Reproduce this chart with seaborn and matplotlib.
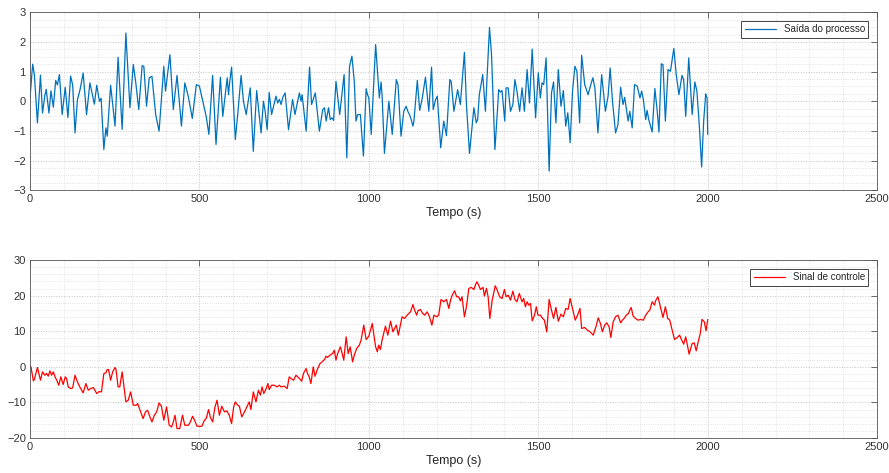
import pandas as pd
import matplotlib
matplotlib.use("Agg")
import matplotlib.pyplot as plt
import seaborn as sns
from matplotlib.ticker import MultipleLocator

# Saida do processo
t_saida = [0, 8, 13, 22, 31, 37, 44, 48, 56, 62, 69, 76, 81, 87, 95, 104, 112, 120, 126, 133,
           140, 148, 157, 167, 177, 190, 197, 205, 210, 218, 224, 228, 238, 251, 260, 272, 283, 295, 305, 312,
           321, 331, 336, 344, 352, 360, 371, 381, 395, 400, 413, 423, 434, 447, 457, 467, 479, 491,
           500, 510, 517, 520, 528, 539, 549, 562, 569, 577, 582, 586, 589, 595, 606, 613, 623, 630, 638, 650,
           659, 669, 682, 689, 694, 700, 706, 713, 726, 731, 736, 741, 746, 753, 763, 775, 782, 788, 795, 800,
           803, 815, 825, 831, 842, 854, 864, 869, 874, 881, 886, 891, 896, 903, 914, 927, 935, 943, 950, 957,
           962, 967, 975, 984, 992, 996,
           1000, 1007, 1020, 1031, 1036, 1039, 1046, 1059, 1069, 1081, 1086, 1095, 1103, 1110, 1115, 1120, 1125, 1130, 1133, 1143,
           1150, 1157, 1167, 1177, 1185, 1190, 1197, 1202, 1212, 1221, 1229, 1239, 1243, 1251, 1262, 1270, 1282, 1288, 1297, 1310,
           1317, 1321, 1326, 1336, 1344, 1356, 1362, 1372, 1380, 1383, 1388, 1393, 1401, 1405, 1411, 1418, 1425, 1431, 1437, 1445,
           1452, 1459, 1467, 1474, 1482, 1492,
           1500, 1506, 1511, 1516, 1523, 1532, 1539, 1545, 1552, 1559, 1567, 1574, 1581, 1587, 1594, 1601, 1608, 1614, 1622, 1628,
           1637, 1647, 1655, 1661, 1667, 1676, 1687, 1698, 1706, 1712, 1719, 1728, 1735, 1743, 1750, 1755, 1765, 1770, 1777, 1784,
           1792, 1800, 1805, 1810, 1817, 1821, 1826, 1836, 1844, 1851, 1856, 1863, 1868, 1875, 1883, 1890, 1900, 1907, 1915, 1924,
           1929, 1935, 1944, 1954, 1962, 1968, 1975, 1982, 1988, 1994, 1998, 2000]
y_saida = [0.1, 1.25, 0.9, -0.73, 0.88, -0.4, 0.2, 0.4, -0.4, 0.35, -0.2, 0.7, 0.55, 0.9, -0.45, 0.47, -0.55, 0.85, 0.55, -1.07,
           0.05, 0.4, 0.95, -0.45, 0.62, -0.1, 0.54, 0, 0.1, -1.63, -0.9, -1.18, 0.54, -0.84, 1.48, -0.95, 2.3, -0.22, 1.24, 0.65,
           -0.28, 1.2, 1.18, -0.17, 0.79, 0.84, -0.45, -1.01, 1.18, 0.34, 1.57, -0.28, 0.87, -0.84, 0.62, 0.17, -0.58, 0.56,
           0.51, 0, -0.34, -0.51, -1.12, 0.87, -1.46, 0.81, -0.51, 0.28, 0.79, 0.22, 0.62, 1.15, -1.29, -0.45, 0.87, 0, -0.45, 0.45,
           -1.69, 0.36, -1.07, 0, -0.34, -0.96, 0.3, -0.45, 0.17, -0.06, 0.06, -0.11, 0.13, 0.28, -0.96, 0.06, -0.45, -0.11, 0.28, 0,
           0.22, -1.01, 1.15, -0.11, 0.28, -1.01, -0.28, -0.22, -0.67, -0.22, -0.62, -0.56, -0.65, 0.67, -0.45, 0.9, -1.91, 1.18, 1.52, 0.67,
           -0.67, -0.45, -0.45, -1.85, 0.42, 0.22,
           0.11, -1.12, 1.91, 0.11, 0.65, 0.22, -1.76, 0, -1.12, 0.73, 0.56, -1.18, -0.34, -0.17, -0.34, -0.45, -0.62, -0.84, -0.67, 0.7,
           -0.31, 0.06, 0.81, -0.34, 1.15, -0.28, 0.06, 0.17, -1.57, -0.67, -1.16, 0.73, 0.67, -0.34, 0.39, -0.11, 1.65, -0.11, -1.76, -0.22,
           -0.73, -0.62, 0.22, 0.9, -0.34, 2.49, 1.57, -1.63, -0.22, 0.39, 0.31, 0.36, -0.67, 0.45, 0.45, -0.34, -0.11, 0.73, 0.34, -0.34,
           0.45, -0.34, 1.07, -0.06, 1.76, -0.56,
           0.96, 0.11, 0.62, 0.56, 1.46, -2.36, 0.28, 0.65, -0.73, 1.07, -0.17, 0.36, -0.84, -0.39, -1.4, 0.34, 1.18, 1.01, -0.73, 1.55,
           0.56, 0.22, 0.56, 0.79, 0.45, -1.07, 0.9, -0.34, 0.17, 1.12, 0, -1.07, -0.79, 0.47, -0.11, 0.13, -0.67, -0.34, -0.9, 0.56,
           0.51, 0.11, 0.34, 0.06, -0.62, -0.31, -0.62, -1.04, 0.43, -0.34, -1.04, 1.26, 1.24, -0.67, 1.07, 1.01, 1.78, 0.9, 0.22, 0.87,
           0.73, -0.51, 1.46, -0.45, 0.65, 0.34, -0.79, -2.22, -0.67, 0.25, 0.11, -1.12]

# Sinal de controle
t_sinal = [0, 3, 10, 13, 22, 31, 37, 44, 49, 54, 59, 64, 69, 74, 79, 85, 91, 98, 104, 108,
           113, 120, 126, 133, 140, 147, 157, 165, 172, 179, 187, 197, 204, 211, 218, 224, 228, 232, 238, 244,
           251, 254, 260, 265, 272, 283, 290, 297, 305, 313, 318, 324, 334, 341, 347, 354, 360, 367, 374, 381,
           388, 395, 403, 411, 418, 423, 428, 434, 442, 450, 457, 467, 472, 480, 487, 493,
           500, 507, 515, 520, 527, 532, 539, 546, 552, 559, 566, 574, 581, 588, 595, 601, 606, 613, 618, 625,
           633, 641, 647, 652, 659, 667, 674, 680, 685, 690, 697, 702, 706, 713, 721, 729, 736, 741, 751, 759,
           765, 770, 778, 785, 790, 795, 802, 807, 815, 819, 824, 829, 836, 841, 849, 856, 862, 869, 874, 878,
           885, 893, 898, 903, 908, 916, 920, 926, 933, 939, 945, 952, 957, 964, 972, 977, 985, 992,
           1000, 1010, 1020, 1025, 1029, 1034, 1039, 1049, 1056, 1064, 1071, 1081, 1087, 1098, 1105, 1113, 1123, 1130, 1135, 1141,
           1145, 1152, 1159, 1165, 1172, 1179, 1186, 1192, 1200, 1206, 1213, 1221, 1229, 1236, 1241, 1246, 1253, 1259, 1265, 1270,
           1275, 1282, 1288, 1295, 1302, 1310, 1315, 1319, 1324, 1329, 1337, 1341, 1347, 1352, 1357, 1364, 1373, 1378, 1386, 1393,
           1400, 1405, 1411, 1418, 1425, 1431, 1437, 1444, 1452, 1457, 1462, 1467, 1472, 1477, 1482, 1489, 1494, 1499,
           1506, 1513, 1518, 1525, 1532, 1539, 1545, 1552, 1559, 1567, 1574, 1581, 1588, 1594, 1601, 1609, 1616, 1623, 1628, 1637,
           1645, 1653, 1662, 1670, 1677, 1684, 1689, 1696, 1702, 1709, 1714, 1721, 1728, 1735, 1743, 1748, 1753, 1760, 1766, 1770,
           1774, 1780, 1787, 1794, 1802, 1810, 1817, 1824, 1829, 1836, 1843, 1846, 1853, 1859, 1864, 1868, 1875, 1882, 1888, 1895,
           1902, 1910, 1917, 1921, 1929, 1935, 1940, 1945, 1954, 1960, 1966, 1973, 1978, 1983, 1990, 1995, 2000]
y_sinal = [-0.19, 0, -3.94, -3.56, -0.19, -3.75, -1.41, -2.35, -1.88, -2.63, -1.13, -2.35, -1.41, -2.81, -3.75, -5.16, -2.81, -4.97, -2.81, -3.28,
           -5.63, -6.1, -5.91, -2.35, -4.22, -5.63, -7.32, -4.69, -6.57, -6.1, -5.82, -7.5, -6.94, -7.04, -1.88, -1.69, -0.75, -0.75, -3.75, -1.41,
           -0.19, -0.75, -5.63, -5.63, -1.41, -9.85, -9.38, -7.04, -10.79, -10.79, -10.32, -12.01, -14.54, -12.66, -12.2, -14.07, -15.48, -13.6, -12.66, -10.13,
           -11.07, -15.01, -11.26, -16.42, -16.89, -15.48, -13.6, -17.35, -17.35, -13.6, -16.42, -16.42, -15.76, -13.88, -15.29, -16.7,
           -16.7, -16.7, -15.01, -14.54, -12.01, -14.07, -15.48, -11.26, -9.38, -13.6, -11.07, -12.66, -12.38, -13.6, -15.95, -11.26, -9.85, -10.79, -11.07, -14.07,
           -12.66, -11.07, -9.85, -12.01, -7.04, -9.85, -6.57, -7.97, -5.63, -7.5, -6.1, -4.69, -6.38, -5.16, -5.16, -5.63, -5.16, -5.63, -5.44, -6.1,
           -2.81, -3.28, -3.75, -2.35, -2.81, -3.28, -4.03, -1.88, -0.47, -1.88, -2.81, -4.69, 0, -2.63, -0.47, 0.94, 1.41, 2.06, 3.0, 2.63,
           3.28, 3.75, 4.69, 1.88, 3.75, 5.63, 4.22, 1.88, 8.44, 3.75, 5.63, 1.41, 3.28, 5.16, 6.1, 7.5, 11.73, 7.69,
           8.63, 12.2, 5.63, 4.22, 6.1, 4.88, 7.5, 11.44, 8.91, 12.85, 9.85, 11.73, 8.91, 14.07, 13.6, 14.54, 15.48, 17.54, 15.95, 14.54,
           15.76, 16.14, 15.01, 14.54, 15.48, 14.07, 11.73, 14.54, 14.07, 14.54, 18.95, 18.29, 18.95, 16.42, 18.76, 20.17, 21.39, 19.7, 19.7, 18.57,
           19.7, 14.07, 16.89, 22.05, 22.33, 21.76, 23.17, 23.92, 22.98, 21.76, 22.33, 19.89, 22.05, 19.7, 13.6, 18.76, 22.8, 21.76, 19.7, 19.23,
           21.76, 19.7, 20.17, 18.76, 21.29, 18.95, 18.29, 20.64, 18.29, 19.23, 16.89, 18.29, 17.35, 17.82, 12.95, 14.54, 16.89, 14.54,
           14.54, 13.6, 13.13, 9.85, 18.95, 15.95, 13.6, 16.7, 12.85, 14.82, 14.07, 16.42, 16.14, 19.23, 16.42, 13.13, 14.54, 16.42, 10.79, 11.07,
           10.32, 9.85, 8.91, 11.26, 13.79, 12.01, 9.85, 11.73, 12.38, 11.26, 8.26, 12.66, 14.07, 14.54, 12.38, 13.13, 13.6, 14.54, 15.01, 15.95,
           16.7, 14.26, 13.6, 13.13, 13.32, 13.13, 14.54, 15.48, 15.95, 18.29, 17.35, 18.57, 19.7, 17.35, 15.48, 13.88, 16.89, 13.6, 13.13, 10.32,
           7.69, 8.26, 8.91, 7.97, 6.38, 8.44, 6.1, 3.56, 6.57, 6.75, 4.5, 7.5, 9.38, 13.32, 12.66, 10.13, 13.32]

df_saida = pd.DataFrame({"Tempo": t_saida, "Valor": y_saida})
df_sinal = pd.DataFrame({"Tempo": t_sinal, "Valor": y_sinal})

sns.set_style("white")
plt.rcParams["font.family"] = ["Liberation Sans", "DejaVu Sans"]

fig = plt.figure(figsize=(8.89, 4.73), dpi=100)
ax1 = fig.add_axes([0.0337, 0.598, 0.953, 0.376])
ax2 = fig.add_axes([0.0337, 0.074, 0.953, 0.376])

sns.lineplot(data=df_saida, x="Tempo", y="Valor", ax=ax1, color="#0072BD", lw=0.9,
             solid_joinstyle="round", label="Saída do processo")
sns.lineplot(data=df_sinal, x="Tempo", y="Valor", ax=ax2, color="#FF0000", lw=0.9,
             solid_joinstyle="round", label="Sinal de controle")

# MATLAB-like axes
for ax, ylim, ymaj, ymin in [(ax1, (-3, 3), 1, 0.25), (ax2, (-20, 30), 10, 2)]:
    ax.set_xlim(0, 2500)
    ax.set_ylim(*ylim)
    ax.xaxis.set_major_locator(MultipleLocator(500))
    ax.xaxis.set_minor_locator(MultipleLocator(100))
    ax.yaxis.set_major_locator(MultipleLocator(ymaj))
    ax.yaxis.set_minor_locator(MultipleLocator(ymin))
    ax.grid(True, which="major", linestyle=":", color="#c4c4c4", lw=0.7)
    ax.grid(True, which="minor", linestyle=":", color="#dadada", lw=0.6)
    ax.tick_params(which="major", direction="in", length=4, width=0.6, top=True, right=True,
                   labelsize=8, colors="#333333", pad=3)
    ax.tick_params(which="major", color="#555555")
    ax.tick_params(which="minor", length=0)
    for s in ax.spines.values():
        s.set_color("#555555")
        s.set_linewidth(0.6)
    ax.set_xlabel("Tempo (s)", fontsize=9, color="#262626", labelpad=2)
    ax.set_ylabel("")
    leg = ax.legend(loc="upper right", fontsize=7, handlelength=3.2, fancybox=False,
                    borderaxespad=0.9, borderpad=0.35, framealpha=1)
    leg.get_frame().set_edgecolor("#262626")
    leg.get_frame().set_linewidth(0.6)

plt.savefig("out.png", dpi=100)
